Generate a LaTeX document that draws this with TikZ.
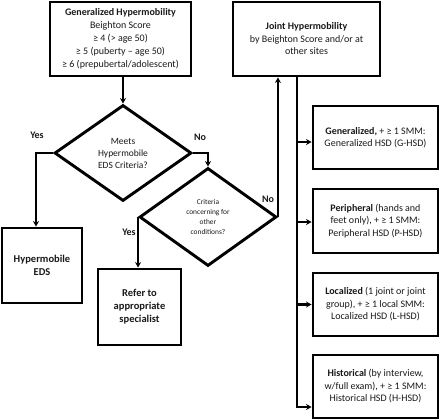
\documentclass[tikz,border=0pt]{standalone}
\usepackage{fontspec}
\setmainfont{Carlito}
\usetikzlibrary{shapes.geometric,arrows.meta,calc}
\begin{document}
\begin{tikzpicture}[x=1pt,y=-1pt,
  box/.style={draw,line width=2.9pt,align=center,inner sep=1pt,text=black!90},
  dmd/.style={draw,diamond,line width=2.9pt,align=center,inner sep=0pt,aspect=1.43,text=black!90},
  conn/.style={line width=2.5pt},
  arr/.style={line width=2.5pt,-{Stealth[length=5.5pt,width=6pt]}},
  lbl/.style={font=\fontsize{10}{12}\selectfont\bfseries,text=black!90},
  txt/.style={font=\fontsize{10}{12.5}\selectfont}]
\useasboundingbox (0,0) rectangle (440,420);

\node[box,txt,minimum width=141,minimum height=74] (gh) at (120.5,39)
  {\textbf{Generalized Hypermobility}\\[0.5pt]Beighton Score\\[0.5pt]≥ 4 (> age 50)\\[0.5pt]≥ 5 (puberty – age 50)\\[0.5pt]≥ 6 (prepubertal/adolescent)};
\node[box,txt,minimum width=147,minimum height=74] (jh) at (306.5,39)
  {\textbf{Joint Hypermobility}\\by Beighton Score and/or at\\other sites};

\node[dmd,minimum width=137,minimum height=96,font=\fontsize{9.5}{12}\selectfont] (d1) at (123,153)
  {Meets\\Hypermobile\\EDS Criteria?};
\node[dmd,minimum width=137,minimum height=98,font=\fontsize{7.4}{9.7}\selectfont] (d2) at (208,217)
  {Criteria\\concerning for\\other\\conditions?};

\node[box,minimum width=80,minimum height=75,font=\fontsize{10.5}{12.5}\selectfont\bfseries] (eds) at (42,265.5)
  {Hypermobile\\EDS};
\node[box,minimum width=83,minimum height=76,font=\fontsize{10.5}{13}\selectfont\bfseries] (ref) at (139.5,307)
  {Refer to\\appropriate\\specialist};

\node[box,txt,minimum width=125,minimum height=63] (g) at (375.5,137.5)
  {\textbf{Generalized,} + ≥ 1 SMM:\\Generalized HSD (G-HSD)};
\node[box,txt,minimum width=125,minimum height=64] (p) at (375.5,221)
  {\textbf{Peripheral} (hands and\\feet only), + ≥ 1 SMM:\\Peripheral HSD (P-HSD)};
\node[box,txt,minimum width=125,minimum height=63] (l) at (375.5,304.5)
  {\textbf{Localized} (1 joint or joint\\group), + ≥ 1 local SMM:\\Localized HSD (L-HSD)};
\node[box,txt,minimum width=125,minimum height=63] (h) at (375.5,386.5)
  {\textbf{Historical} (by interview,\\w/full exam), + ≥ 1 SMM:\\Historical HSD (H-HSD)};

\node[lbl] (y1) at (37,135) {Yes};
\node[lbl] (n1) at (200,137) {No};
\node[lbl] (y2) at (129,232) {Yes};
\node[lbl] (n2) at (268,199) {No};

\coordinate (trunk) at (297,0);

\draw[arr] (d1.north |- gh.south) -- (d1.north);
\draw[arr] (d1.west) -| ($(eds.north)+(-6,0)$);
\draw[arr] (d1.east) -| (d2.north);
\draw[arr] (d2.west) -- (d2.west |- ref.north);
\draw[arr] (d2.east) -- (d2.east |- jh.south);
\draw[conn] (trunk |- jh.south) -- ($(trunk |- h.west)+(0,21.7)$);
\draw[arr] ($(trunk |- g.west)+(0,4.5)$) -- ($(g.west)+(0,4.5)$);
\draw[arr] ($(trunk |- p.west)+(0,1)$) -- ($(p.west)+(0,1)$);
\draw[arr] (trunk |- l.west) -- (l.west);
\draw[arr] ($(trunk |- h.west)+(0,20.5)$) -- ($(h.west)+(0,20.5)$);
\end{tikzpicture}
\end{document}
